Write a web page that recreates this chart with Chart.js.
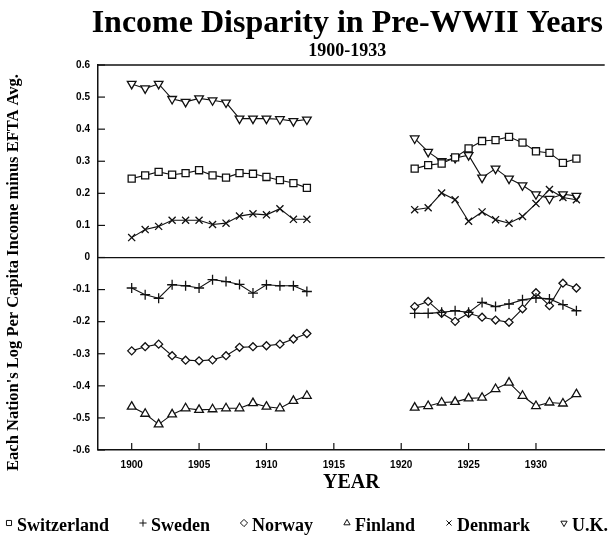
<!DOCTYPE html>
<html>
<head>
<meta charset="utf-8">
<script src="https://cdn.jsdelivr.net/npm/chart.js@4.4.1/dist/chart.umd.min.js"></script>
<style>
  html, body { margin: 0; padding: 0; background: #fff; }
</style>
</head>
<body>
<canvas id="lineChart" width="611" height="537"></canvas>
<script>
// years on the two pieces of the x axis (the war years have no data)
const earlyYears = [1900,1901,1902,1903,1904,1905,1906,1907,1908,1909,1910,1911,1912,1913];
const lateYears = [1921,1922,1923,1924,1925,1926,1927,1928,1929,1930,1931,1932,1933];

const switzerlandEarly = [0.246,0.256,0.267,0.258,0.263,0.272,0.256,0.249,0.263,0.261,0.251,0.241,0.232,0.217];
const switzerlandLate = [0.277,0.288,0.293,0.312,0.34,0.363,0.366,0.376,0.358,0.331,0.326,0.295,0.308];
const swedenEarly = [-0.095,-0.116,-0.127,-0.085,-0.088,-0.095,-0.069,-0.075,-0.084,-0.111,-0.085,-0.088,-0.088,-0.106];
const swedenLate = [-0.174,-0.174,-0.171,-0.166,-0.171,-0.14,-0.153,-0.145,-0.132,-0.126,-0.129,-0.147,-0.166];
const norwayEarly = [-0.291,-0.278,-0.27,-0.306,-0.32,-0.322,-0.319,-0.306,-0.28,-0.278,-0.275,-0.27,-0.254,-0.237];
const norwayLate = [-0.153,-0.137,-0.174,-0.199,-0.174,-0.186,-0.195,-0.202,-0.16,-0.11,-0.15,-0.08,-0.095];
const finlandEarly = [-0.465,-0.487,-0.52,-0.489,-0.47,-0.475,-0.473,-0.47,-0.47,-0.454,-0.465,-0.47,-0.447,-0.431];
const finlandLate = [-0.468,-0.463,-0.452,-0.45,-0.439,-0.437,-0.41,-0.39,-0.431,-0.463,-0.452,-0.455,-0.426];
const denmarkEarly = [0.062,0.087,0.097,0.116,0.116,0.116,0.103,0.107,0.129,0.136,0.133,0.152,0.119,0.119];
const denmarkLate = [0.149,0.155,0.201,0.18,0.113,0.142,0.118,0.107,0.128,0.168,0.212,0.187,0.18];
const ukEarly = [0.541,0.527,0.541,0.494,0.485,0.496,0.49,0.483,0.433,0.433,0.433,0.431,0.425,0.43];
const ukLate = [0.371,0.329,0.3,0.31,0.319,0.249,0.277,0.246,0.225,0.197,0.183,0.197,0.192];

const xTickYears = [1900,1905,1910,1915,1920,1925,1930];
const yTickValues = [-0.6,-0.5,-0.4,-0.3,-0.2,-0.1,0,0.1,0.2,0.3,0.4,0.5,0.6];

const chartTitle = 'Income Disparity in Pre-WWII Years';
const chartSubtitle = '1900-1933';
const xTitle = 'YEAR';
const yTitle = "Each Nation's Log Per Capita Income minus EFTA Avg.";

function series(early, late) {
  let pts = early.map((v, i) => ({x: earlyYears[i], y: v}));
  pts.push({x: 1917, y: null}); // break the line over the war
  late.forEach((v, i) => pts.push({x: lateYears[i], y: v}));
  return pts;
}

function dataset(label, early, late, style, rotation, radius) {
  return {
    label: label,
    data: series(early, late),
    borderColor: '#111',
    backgroundColor: '#fff',
    borderWidth: 1.1,
    pointStyle: style,
    pointRotation: rotation,
    pointRadius: radius,
    pointBorderWidth: 1.3,
    pointBorderColor: '#111',
    pointBackgroundColor: '#fff',
    spanGaps: false,
    tension: 0
  };
}

const serif = '"Liberation Serif", "Times New Roman", serif';
const sans = '"Liberation Sans", Arial, sans-serif';

// titles + box top + inward tick marks
const frame = {
  id: 'frame',
  afterDraw(chart) {
    let ctx = chart.ctx;
    let area = chart.chartArea;
    let xs = chart.scales.x, ys = chart.scales.y;
    ctx.save();
    ctx.strokeStyle = '#111';
    ctx.lineWidth = 1.5;
    ctx.beginPath();
    ctx.moveTo(area.left, area.top);
    ctx.lineTo(area.right, area.top);
    ctx.stroke();
    ctx.lineWidth = 1.2;
    yTickValues.forEach(v => {
      let y = ys.getPixelForValue(v);
      ctx.beginPath();
      ctx.moveTo(area.left, y);
      ctx.lineTo(area.left + 7, y);
      ctx.stroke();
    });
    xTickYears.forEach(v => {
      let x = xs.getPixelForValue(v);
      ctx.beginPath();
      ctx.moveTo(x, area.bottom);
      ctx.lineTo(x, area.bottom - 7);
      ctx.stroke();
    });
    let cx = (area.left + area.right) / 2 - 4;
    ctx.fillStyle = '#000';
    ctx.textAlign = 'center';
    ctx.textBaseline = 'alphabetic';
    ctx.font = 'bold 32px ' + serif;
    ctx.fillText(chartTitle, cx, 32);
    ctx.font = 'bold 18px ' + serif;
    ctx.fillText(chartSubtitle, cx, 56);
    // y title sits a little below the middle of the plot in the original
    ctx.translate(14, (area.top + area.bottom) / 2 + 15);
    ctx.rotate(-Math.PI / 2);
    ctx.textBaseline = 'middle';
    ctx.font = 'bold 16.5px ' + serif;
    ctx.fillText(yTitle, 0, 0);
    ctx.restore();
  }
};

// one row legend spread across the full width, small marker glyph before each name
const legendRow = {
  id: 'legendRow',
  afterDraw(chart) {
    let ctx = chart.ctx;
    ctx.save();
    ctx.font = 'bold 18px ' + serif;
    let items = chart.data.datasets.map(ds => ({ds: ds, w: 12 + ctx.measureText(ds.label).width}));
    let total = items.reduce((s, it) => s + it.w, 0);
    let gap = (608 - 5 - total) / (items.length - 1);
    let x = 5;
    items.forEach(it => {
      ctx.fillStyle = '#fff';
      ctx.strokeStyle = '#111';
      ctx.lineWidth = 1;
      Chart.helpers.drawPoint(ctx, {
        pointStyle: it.ds.pointStyle,
        rotation: it.ds.pointRotation,
        radius: 3.6,
        borderWidth: 1
      }, x + 4, 523);
      ctx.fillStyle = '#000';
      ctx.textAlign = 'left';
      ctx.textBaseline = 'alphabetic';
      ctx.fillText(it.ds.label, x + 12, 531);
      x += it.w + gap;
    });
    ctx.restore();
  }
};

let chartformat = {};
chartformat.type = 'line';
chartformat.data = {
  datasets: [
    dataset('Switzerland', switzerlandEarly, switzerlandLate, 'rect', 0, 5),
    dataset('Sweden', swedenEarly, swedenLate, 'cross', 0, 5),
    dataset('Norway', norwayEarly, norwayLate, 'rectRot', 0, 4),
    dataset('Finland', finlandEarly, finlandLate, 'triangle', 0, 5),
    dataset('Denmark', denmarkEarly, denmarkLate, 'crossRot', 0, 5),
    dataset('U.K.', ukEarly, ukLate, 'triangle', 180, 5)
  ]
};

let options = chartformat.options = {};
options.responsive = false;
options.animation = false;
options.layout = {padding: {top: 65, right: 0, left: 0, bottom: 35}};
options.plugins = {
  legend: {display: false},
  tooltip: {enabled: false}
};
options.scales = {
  x: {
    type: 'linear',
    min: 1897.5,
    max: 1935.1,
    afterBuildTicks: scale => { scale.ticks = xTickYears.map(v => ({value: v})); },
    afterFit: scale => { scale.height = 52; },
    grid: {display: false, drawTicks: false},
    border: {display: true, color: '#111', width: 1.5},
    ticks: {
      padding: 9,
      color: '#000',
      maxRotation: 0,
      font: {family: sans, size: 10, weight: 'bold'},
      callback: v => String(v)
    },
    title: {
      display: true,
      text: xTitle,
      color: '#000',
      padding: {top: 0, bottom: 7},
      font: {family: serif, size: 20, weight: 'bold'}
    }
  },
  y: {
    type: 'linear',
    min: -0.6,
    max: 0.6,
    afterBuildTicks: scale => { scale.ticks = yTickValues.map(v => ({value: v})); },
    afterFit: scale => { scale.width = 98; },
    grid: {
      drawTicks: false,
      color: c => (c.tick && c.tick.value === 0) ? '#111' : 'rgba(0,0,0,0)',
      lineWidth: 1.2
    },
    border: {display: true, color: '#111', width: 1.5},
    ticks: {
      padding: 8,
      color: '#000',
      font: {family: sans, size: 10, weight: 'bold'},
      callback: v => v === 0 ? '0' : v.toFixed(1)
    }
  }
};

new Chart(document.getElementById('lineChart'), {
  type: chartformat.type,
  data: chartformat.data,
  options: options,
  plugins: [frame, legendRow]
});
</script>
</body>
</html>
